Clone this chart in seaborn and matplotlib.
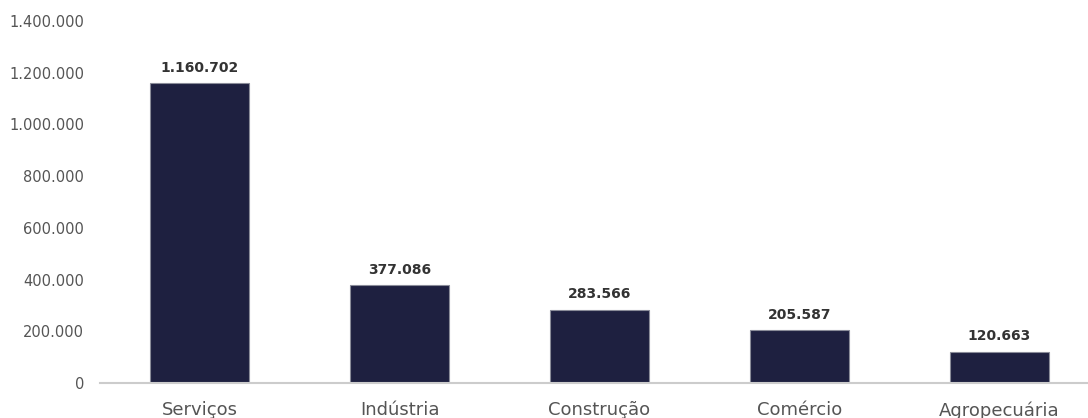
import matplotlib
matplotlib.use("Agg")
import matplotlib.pyplot as plt
import seaborn as sns
import pandas as pd

categories = ["Serviços", "Indústria", "Construção", "Comércio", "Agropecuária"]
values = [1160702, 377086, 283566, 205587, 120663]
yticks = [0, 200000, 400000, 600000, 800000, 1000000, 1200000, 1400000]

def fmt(v):
    return f"{v:,}".replace(",", ".")

sns.set_style("white")
plt.rcParams["font.family"] = ["DejaVu Sans"]

fig = plt.figure(figsize=(10.88, 4.18), dpi=100)
left = 99.5 / 1088
width = 1000 / 1088
bottom = (418 - 383) / 418
height = (383 - 21) / 418
ax = fig.add_axes([left, bottom, width, height])

df = pd.DataFrame({"cat": categories, "val": values})
sns.barplot(data=df, x="cat", y="val", color="#1e2040", width=0.495,
            edgecolor="#8a8c99", linewidth=0.8, saturation=1, ax=ax)

ax.set_xlim(-0.5, 4.5)
ax.set_ylim(0, 1400000)
ax.set_yticks(yticks)
ax.set_yticklabels([fmt(t) for t in yticks], fontsize=10.5, color="#555555")
ax.tick_params(axis="y", length=0, pad=11)
ax.tick_params(axis="x", length=0, pad=13, labelsize=13, labelcolor="#555555")
ax.set_xlabel("")
ax.set_ylabel("")
for s in ["left", "right", "top"]:
    ax.spines[s].set_visible(False)
ax.spines["bottom"].set_color("#cccccc")
ax.spines["bottom"].set_linewidth(1.5)

for i, v in enumerate(values):
    ax.annotate(fmt(v), (i, v), xytext=(0, 6), textcoords="offset points",
                ha="center", va="bottom", fontsize=10, fontweight="bold",
                color="#333333")

fig.savefig("out.png", dpi=100)
